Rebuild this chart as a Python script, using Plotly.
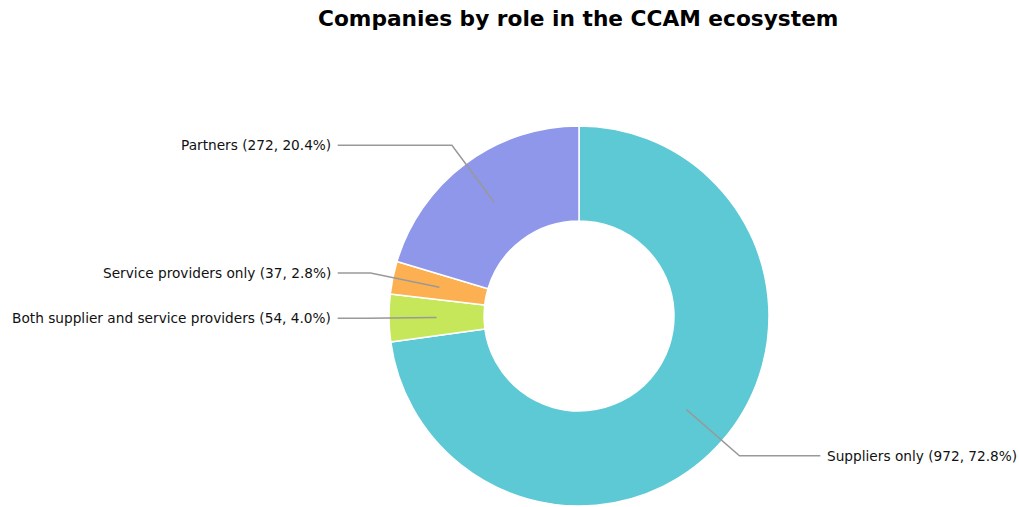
import math
import plotly.graph_objects as go

# Data
labels = ["Suppliers only", "Both supplier and service providers", "Service providers only", "Partners"]
values = [972, 54, 37, 272]
colors = ["#5DC9D5", "#C7E75A", "#FDB052", "#8E97E9"]
title_text = "Companies by role in the CCAM ecosystem"

W, H = 1019, 507
CX, CY, R = 579, 316, 190  # donut centre and outer radius (px)

fig = go.Figure()

fig.add_trace(go.Pie(
    labels=labels,
    values=values,
    marker=dict(colors=colors, line=dict(color="white", width=1.5)),
    hole=0.5,
    sort=False,
    direction="clockwise",
    rotation=0,
    textinfo="none",
    hoverinfo="label+value+percent",
    showlegend=False,
    domain=dict(x=[(CX - R) / W, (CX + R) / W], y=[(H - CY - R) / H, (H - CY + R) / H]),
))

# Invisible pixel-space axes used to place leader lines and labels
fig.add_trace(go.Scatter(x=[], y=[], xaxis="x", yaxis="y", showlegend=False, hoverinfo="skip"))

# Leader lines and labels placed from each slice's mid-angle
shapes = []
total = sum(values)
start = 90.0
for lab, val in zip(labels, values):
    span = 360.0 * val / total
    mid = math.radians(start - span / 2)
    start -= span
    c, s = math.cos(mid), math.sin(mid)
    ax, ay = CX + 0.75 * R * c, CY - 0.75 * R * s
    ex, ey = CX + 1.12 * R * c, CY - 1.12 * R * s
    side = 1 if c >= 0 else -1
    tx = CX + side * 1.27 * R
    shapes.append(dict(
        type="path", xref="x", yref="y", layer="above",
        path=f"M {ax:.2f} {ay:.2f} L {ex:.2f} {ey:.2f} L {tx:.2f} {ey:.2f}",
        line=dict(color="#999999", width=1.5),
    ))
    pct = 100.0 * val / total
    fig.add_annotation(
        x=tx + side * 5, y=ey, xref="x", yref="y",
        text=f"{lab} ({val}, {pct:.1f}%)",
        showarrow=False,
        xanchor="left" if side > 0 else "right", yanchor="middle",
        font=dict(family="DejaVu Sans", size=13.7, color="#111111"),
    )

fig.add_annotation(
    x=578, y=18, xref="x", yref="y",
    text=f"<b>{title_text}</b>", showarrow=False,
    xanchor="center", yanchor="middle",
    font=dict(family="DejaVu Sans", size=21.7, color="#000000"),
)

fig.update_layout(
    width=W, height=H,
    margin=dict(l=0, r=0, t=0, b=0),
    paper_bgcolor="white", plot_bgcolor="rgba(0,0,0,0)",
    shapes=shapes,
    xaxis=dict(range=[0, W], visible=False, fixedrange=True, domain=[0, 1]),
    yaxis=dict(range=[H, 0], visible=False, fixedrange=True, domain=[0, 1]),
)

fig.write_html("out.html")
